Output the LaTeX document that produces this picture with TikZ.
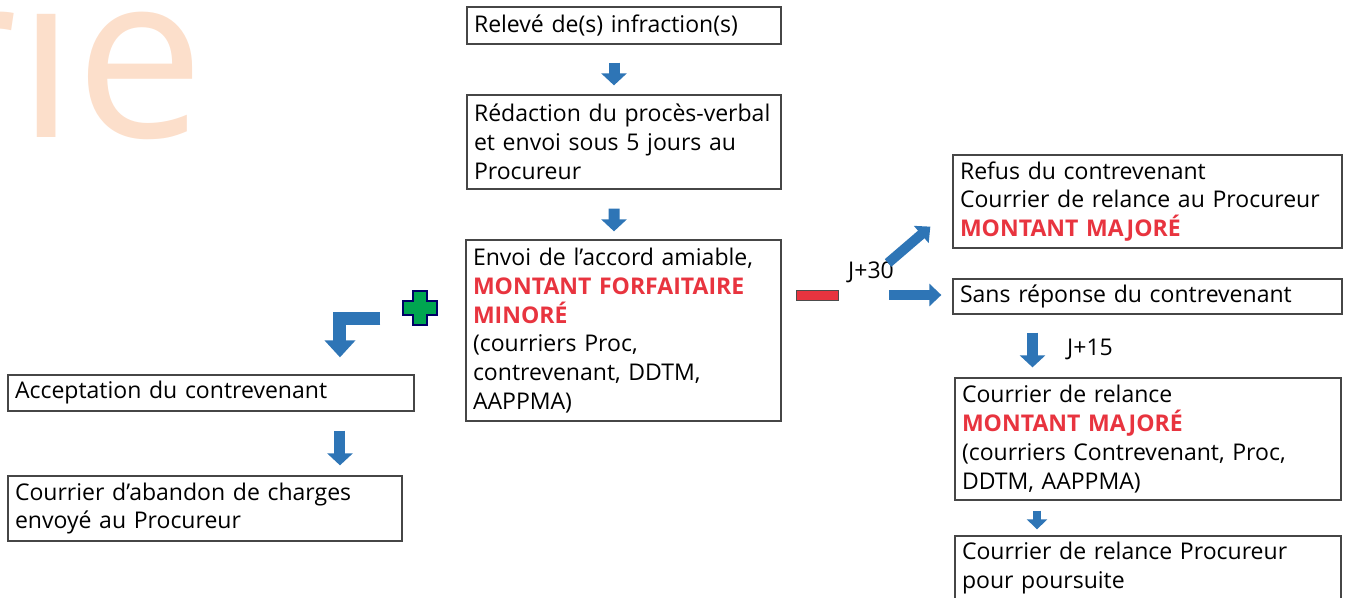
\documentclass[tikz,border=0pt]{standalone}
\usepackage{fontspec}
\setmainfont{Open Sans}
\usetikzlibrary{arrows.meta}

\definecolor{bleuFleche}{RGB}{46,117,182}
\definecolor{rougeTexte}{RGB}{232,52,63}
\definecolor{vertPlus}{RGB}{0,166,80}
\definecolor{peche}{RGB}{252,223,203}
\definecolor{bordCadre}{RGB}{70,70,70}
\newcommand{\enrouge}[1]{{\color{rougeTexte}\bfseries #1}}

\tikzset{
  etape/.style={draw=bordCadre, line width=0.75pt, align=left, inner xsep=4pt, inner ysep=0pt},
  fleche/.style={draw=bleuFleche, line width=0.22cm, -{Triangle[width=0.5cm,length=0.24cm]}},
  flecheMoyen/.style={draw=bleuFleche, line width=0.2cm, -{Triangle[width=0.44cm,length=0.24cm]}},
  flechePetite/.style={draw=bleuFleche, line width=0.16cm, -{Triangle[width=0.4cm,length=0.2cm]}},
  flecheCoude/.style={draw=bleuFleche, line width=0.26cm, line join=miter, -{Triangle[width=0.6cm,length=0.34cm]}},
  moins/.style={draw=black!70, fill=rougeTexte, line width=0.5pt, minimum width=0.84cm, minimum height=0.2cm, inner sep=0pt},
}

\begin{document}
\begin{tikzpicture}[x=0.02cm, y=-0.02cm, font=\fontsize{13.1}{16.4}\selectfont]
  \useasboundingbox (0,0) rectangle (1350,598);
  \node[anchor=base east, inner sep=0pt, text=peche, font=\fontsize{131}{131}\selectfont] (filigrane) at (205,138) {rie};

  \node[etape, text width=6cm, minimum height=0.74cm] (releve) at (624,25.5) {Relevé de(s) infraction(s)};
  \node[etape, text width=6cm, minimum height=1.88cm] (redaction) at (624,142) {Rédaction du procès-verbal\\ et envoi sous 5 jours au\\ Procureur};
  \node[etape, text width=6.02cm, minimum height=3.62cm] (envoi) at (623.5,330.5) {Envoi de l’accord amiable,\\ \enrouge{MONTANT FORFAITAIRE}\\ \enrouge{MINORÉ}\\ (courriers Proc,\\ contrevenant, DDTM,\\ AAPPMA)};
  \node[etape, text width=7.84cm, minimum height=0.72cm] (acceptation) at (211,393) {Acceptation du contrevenant};
  \node[etape, text width=7.6cm, minimum height=1.3cm] (abandon) at (205,508.5) {Courrier d’abandon de charges\\ envoyé au Procureur};
  \node[etape, text width=7.5cm, minimum height=1.86cm] (refus) at (1147.5,201.5) {Refus du contrevenant\\ Courrier de relance au Procureur\\ \enrouge{MONTANT MAJORÉ}};
  \node[etape, text width=7.5cm, minimum height=0.7cm] (sansreponse) at (1147.5,296.5) {Sans réponse du contrevenant};
  \node[etape, text width=7.44cm, minimum height=2.44cm] (relance) at (1148,439) {Courrier de relance\\ \enrouge{MONTANT MAJORÉ}\\ (courriers Contrevenant, Proc,\\ DDTM, AAPPMA)};
  \node[etape, text width=7.44cm, minimum height=1.28cm] (poursuite) at (1148,568) {Courrier de relance Procureur\\ pour poursuite};

  \node[moins] (moins) at (817,295) {};
  \node (j30) at (871,272) {J+30};
  \node (j15) at (1090,349) {J+15};
  \filldraw[fill=vertPlus, draw=black!60!blue, line width=0.6pt, shift={(420,308)}] (-7,-17) -- (7,-17) -- (7,-7) -- (17,-7) -- (17,7) -- (7,7) -- (7,17) -- (-7,17) -- (-7,7) -- (-17,7) -- (-17,-7) -- (-7,-7) -- cycle;
  \coordinate (departJ30) at (888,263);

  \draw[fleche, shorten <=0.36cm, shorten >=0.18cm] ([xshift=-0.2cm]releve.south) -- ([xshift=-0.2cm]redaction.north);
  \draw[fleche, shorten <=0.38cm, shorten >=0.16cm] ([xshift=-0.2cm]redaction.south) -- ([xshift=-0.19cm]envoi.north);
  \draw[flecheCoude, shorten <=1.7cm, shorten >=0.34cm] ([yshift=0.25cm]envoi.west) -| ([xshift=2.58cm]acceptation.north);
  \draw[fleche, shorten <=0.38cm, shorten >=0.2cm] ([xshift=2.58cm]acceptation.south) -- ([xshift=2.58cm]acceptation.south |- abandon.north);
  \draw[flecheMoyen] (departJ30) -- ([xshift=-0.44cm,yshift=0.44cm]refus.south west);
  \draw[flecheMoyen, shorten <=1.02cm, shorten >=0.22cm] (moins.east) -- (moins.east -| sansreponse.west);
  \draw[fleche, shorten <=0.36cm, shorten >=0.2cm] ([xshift=-2.3cm]sansreponse.south) -- ([xshift=-2.3cm]sansreponse.south |- relance.north);
  \draw[flechePetite, shorten <=0.2cm, shorten >=0.12cm] ([xshift=-2.22cm]relance.south) -- ([xshift=-2.22cm]poursuite.north);
\end{tikzpicture}
\end{document}
